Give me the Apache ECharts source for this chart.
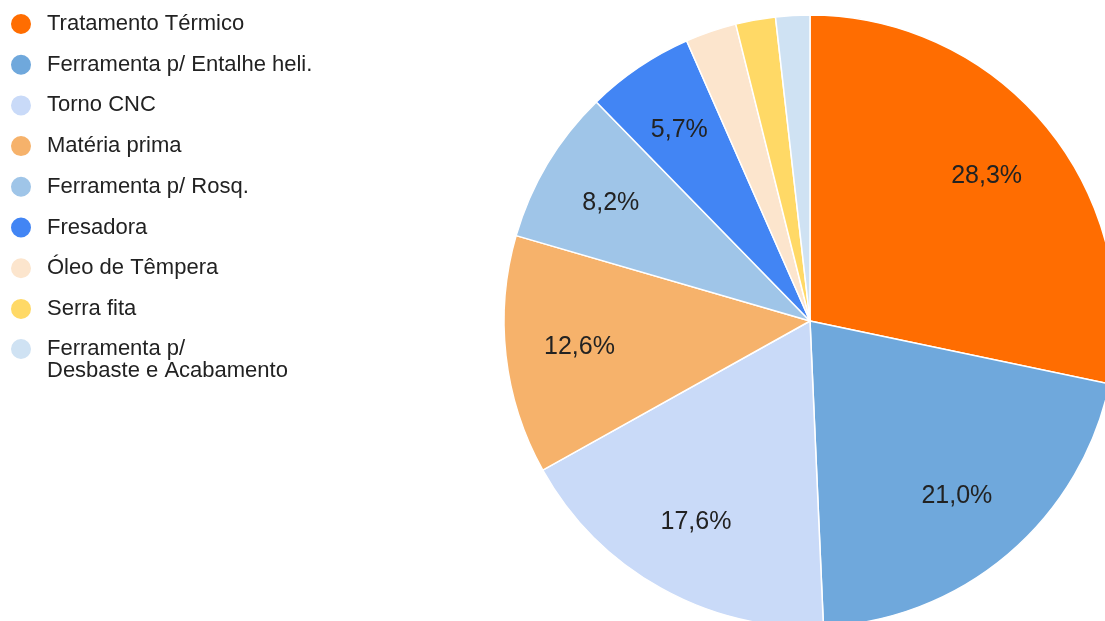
<!DOCTYPE html>
<html><head><meta charset="utf-8">
<script src="https://cdn.jsdelivr.net/npm/echarts@6/dist/echarts.min.js"></script>
<style>html,body{margin:0;padding:0;background:#fff}#c{width:1105px;height:621px}</style>
</head><body><div id="c"></div>
<script>
const categories = ['Tratamento Térmico','Ferramenta p/ Entalhe heli.','Torno CNC','Matéria prima','Ferramenta p/ Rosq.','Fresadora','Óleo de Têmpera','Serra fita','Ferramenta p/\nDesbaste e Acabamento'];
const values = [28.3, 21.0, 17.6, 12.6, 8.2, 5.7, 2.7, 2.1, 1.8];
const colors = ['#ff6d01','#6fa8dc','#c9daf8','#f6b26b','#9fc5e8','#4285f4','#fce5cd','#ffd966','#cfe2f3'];

const FONT = '"Liberation Sans", Arial, sans-serif';
const chart = echarts.init(document.getElementById('c'), null, {renderer:'canvas'});
const R = 306;
const legendBase = {
  orient: 'vertical', left: 9, padding: 0,
  icon: 'circle', itemWidth: 22, itemHeight: 22, itemGap: 16.7,
  textStyle: { fontFamily: FONT, fontSize: 22, lineHeight: 22, color: '#222', padding: [0,0,0,10] }
};
const last = categories.length - 1;
chart.setOption({
  animation: false,
  color: colors,
  legend: [
    Object.assign({}, legendBase, {
      top: 12,
      data: categories.slice(0, last).map((n, i) => ({ name: n, itemStyle: {color: colors[i]} }))
    }),
    Object.assign({}, legendBase, {
      top: 316,
      formatter: name => '\n' + name,
      data: [{ name: categories[last], itemStyle: {color: colors[last]} }]
    })
  ],
  series: [
    {
      type: 'pie', center: [810, 321], radius: [0, R], startAngle: 90, clockwise: true,
      silent: true, label: {show: false}, labelLine: {show: false},
      itemStyle: { borderColor: '#fff', borderWidth: 1.5 },
      data: categories.map((n, i) => ({ name: n, value: values[i] }))
    },
    {
      type: 'pie', center: [808, 321], radius: [148, R], startAngle: 90, clockwise: true,
      silent: true, legendHoverLink: false,
      itemStyle: { color: 'rgba(0,0,0,0)' },
      label: {
        show: true, position: 'inside', fontFamily: FONT, fontSize: 25, color: '#222',
        formatter: p => p.value >= 5 ? p.value.toFixed(1).replace('.', ',') + '%' : ''
      },
      labelLine: {show: false},
      data: categories.map((n, i) => ({ name: n, value: values[i] }))
    }
  ]
});
</script></body></html>
